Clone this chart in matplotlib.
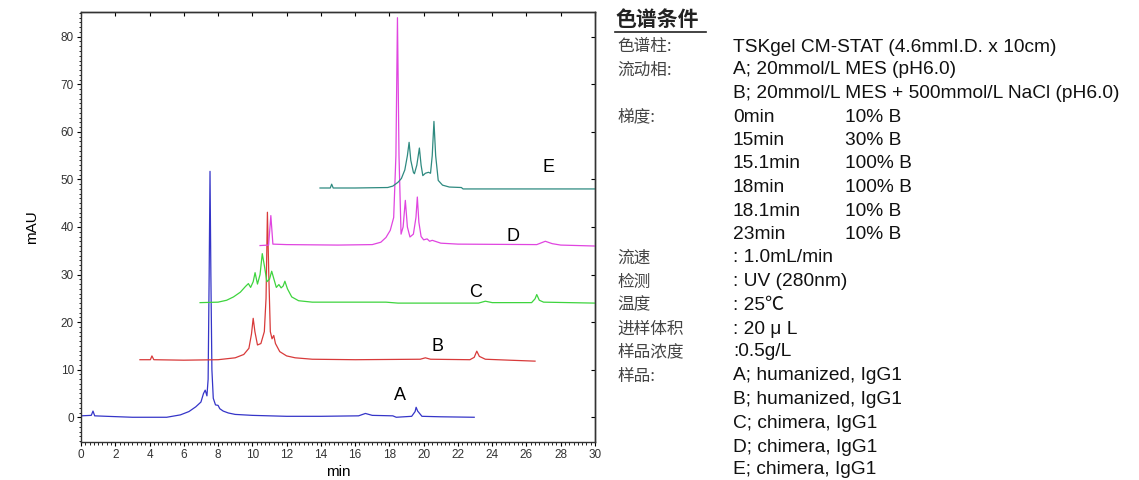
import matplotlib
matplotlib.use("Agg")
import matplotlib.pyplot as plt
from matplotlib.ticker import MultipleLocator

# ---- data (time in min, signal in mAU) ----
a_t = [0, 0.6, 0.7, 0.8, 1.5, 3, 5, 5.8, 6.3, 6.7, 7.0, 7.15, 7.25, 7.35, 7.42, 7.48, 7.53, 7.58, 7.64,
       7.72, 7.85, 8.0, 8.1, 8.3, 8.6, 9.0, 10, 11, 12, 14, 16.2, 16.6, 17.0, 18.2, 18.4, 19.3, 19.5,
       19.56, 19.65, 19.9, 21, 22.95]
a_v = [0.3, 0.4, 1.3, 0.3, 0.2, 0, 0, 0.5, 1.2, 2.2, 3.2, 5.0, 5.7, 4.5, 8, 30, 51.7, 30, 10,
       4, 2.6, 2.5, 1.8, 1.3, 0.9, 0.6, 0.4, 0.3, 0.2, 0.2, 0.3, 0.8, 0.4, 0.3, 0.0, 0.2, 1.2,
       2.1, 1.3, 0.2, 0.1, 0.0]

b_t = [3.44, 4.05, 4.14, 4.25, 6, 8, 9.0, 9.5, 9.8, 9.95, 10.05, 10.15, 10.3, 10.5, 10.7, 10.8, 10.88,
       10.96, 11.05, 11.15, 11.25, 11.35, 11.6, 12, 12.5, 13.5, 16, 19.8, 20.1, 20.4, 22.7, 22.95,
       23.1, 23.25, 23.6, 25, 26.5]
b_v = [12.1, 12.1, 12.9, 12.1, 12.0, 12.1, 12.5, 13.2, 14.5, 17.5, 20.8, 18, 15.2, 15.5, 18, 25, 43.1,
       30, 18, 16.5, 17.2, 15.5, 13.8, 12.9, 12.5, 12.2, 12.1, 12.2, 12.5, 12.2, 12.1, 12.6,
       13.9, 12.8, 12.2, 12.0, 11.8]

c_t = [6.95, 8.0, 8.5, 8.9, 9.3, 9.6, 9.77, 9.9, 10.05, 10.16, 10.3, 10.45, 10.58, 10.72, 10.85, 11.0,
       11.13, 11.28, 11.4, 11.55, 11.68, 11.8, 11.9, 12.05, 12.3, 12.7, 13.5, 17.8, 18.5, 23.2, 23.6,
       24.0, 26.3, 26.5, 26.6, 26.75, 27.0, 30]
c_v = [24.1, 24.2, 24.6, 25.3, 26.3, 27.5, 28.1, 27.3, 28.5, 30.4, 28.0, 30.0, 34.4, 31.5, 28.5, 29.0,
       30.7, 28.8, 27.3, 27.9, 27.2, 27.6, 28.6, 27.0, 25.3, 24.5, 24.2, 24.2, 24.0, 24.0, 24.4,
       24.1, 24.1, 24.9, 25.8, 24.6, 24.2, 24.0]

d_t = [10.45, 10.95, 11.08, 11.2, 12, 15, 17.0, 17.5, 17.8, 18.05, 18.25, 18.38, 18.47, 18.56, 18.68,
       18.8, 18.93, 19.05, 19.2, 19.4, 19.55, 19.63, 19.72, 19.85, 20.0, 20.2, 20.35, 20.5, 21.0, 22,
       26.6, 27.1, 27.5, 28, 30]
d_v = [36.1, 36.2, 42.4, 36.4, 36.3, 36.2, 36.3, 36.8, 37.8, 39.3, 42, 55, 84.0, 55, 38.5,
       40, 45.6, 40, 37.9, 38.5, 42, 46.3, 41, 38, 37.3, 37.5, 37.0, 37.2, 36.6, 36.4,
       36.3, 37.0, 36.5, 36.2, 36.0]

e_t = [13.95, 14.55, 14.63, 14.72, 16, 17.9, 18.2, 18.5, 18.7, 18.9, 19.05, 19.15, 19.25, 19.4, 19.46,
       19.6, 19.75, 19.85, 19.95, 20.1, 20.28, 20.4, 20.5, 20.6, 20.7, 20.85, 21.1, 21.5, 22.2, 22.3, 30]
e_v = [48.2, 48.2, 49.0, 48.2, 48.2, 48.3, 48.6, 49.4, 50.2, 52, 55, 57.8, 54, 51.5, 51.2,
       53, 56.6, 53, 50.8, 51.3, 51.5, 51.3, 55, 62.2, 55, 49.8, 48.8, 48.4, 48.3, 48.0, 48.0]

series_names = ["A", "B", "C", "D", "E"]
label_t = [18.6, 20.8, 23.0, 25.2, 27.3]
label_v = [4.6, 14.9, 26.3, 38.0, 52.5]

x_ticks = list(range(0, 31, 2))
y_ticks = list(range(0, 81, 10))

cond_labels = ["色谱柱:", "流动相:", "", "梯度:", "", "", "", "", "",
               "流速", "检测", "温度", "进样体积", "样品浓度", "样品:", "", "", "", ""]
cond_values = ["TSKgel CM-STAT (4.6mmI.D. x 10cm)",
               "A; 20mmol/L MES (pH6.0)",
               "B; 20mmol/L MES + 500mmol/L NaCl (pH6.0)",
               "0min", "15min", "15.1min", "18min", "18.1min", "23min",
               ": 1.0mL/min", ": UV (280nm)", ": 25℃", ": 20 μ L", ":0.5g/L",
               "A; humanized, IgG1", "B; humanized, IgG1", "C; chimera, IgG1",
               "D; chimera, IgG1", "E; chimera, IgG1"]
cond_extra = ["", "", "", "10% B", "30% B", "100% B", "100% B", "10% B", "10% B",
              "", "", "", "", "", "", "", "", "", ""]

# ---- figure ----
W, H = 1139, 480
fig = plt.figure(figsize=(W / 100, H / 100), dpi=100)
ax = fig.add_axes([81 / W, 1 - 442 / H, (595 - 81) / W, (442 - 12) / H])

colors = ["#3535c8", "#d83a3a", "#3ed43e", "#e045e0", "#2e8a80"]
for (t, v), c in zip([(a_t, a_v), (b_t, b_v), (c_t, c_v), (d_t, d_v), (e_t, e_v)], colors):
    ax.plot(t, v, color=c, lw=0.9)

for n, tx, vy in zip(series_names, label_t, label_v):
    ax.text(tx, vy, n, fontsize=13, family="Liberation Sans", ha="center", va="center", color="black")

ax.set_xlim(0, 30)
ax.set_ylim(-5.2, 85.2)
ax.set_xticks(x_ticks)
ax.set_yticks(y_ticks)
ax.xaxis.set_minor_locator(MultipleLocator(0.25))
ax.yaxis.set_minor_locator(MultipleLocator(1))
ax.tick_params(axis="both", which="major", direction="out", length=3, width=0.8,
               labelsize=8.5, labelcolor="#333333", pad=2)
ax.tick_params(axis="both", which="minor", direction="out", length=1.8, width=0.6)
# inward major ticks along the top and right frame
ax_top = ax.secondary_xaxis("top")
ax_top.set_xticks(x_ticks)
ax_top.tick_params(direction="in", length=3, width=0.8, labeltop=False)
ax_right = ax.secondary_yaxis("right")
ax_right.set_yticks(y_ticks)
ax_right.tick_params(direction="in", length=3, width=0.8, labelright=False)
for lab in ax.get_xticklabels() + ax.get_yticklabels():
    lab.set_family("Liberation Sans")
for s in list(ax.spines.values()) + [ax_top.spines["top"], ax_right.spines["right"]]:
    s.set_linewidth(1.0)
    s.set_color("#333333")
ax.set_xlabel("min", fontsize=11, family="Liberation Sans", labelpad=3)
ax.set_ylabel("mAU", fontsize=11, family="Liberation Sans", labelpad=16)

# ---- conditions panel ----
fam_cn = ["Noto Sans CJK SC", "DejaVu Sans"]
fam_en = ["Liberation Sans", "Noto Sans CJK SC"]
fig.text(615 / W, 1 - 20 / H, "色谱条件", fontsize=15, fontweight="bold", family=fam_cn,
         va="center", ha="left", color="#222222")
fig.add_artist(plt.Line2D([615 / W, 706 / W], [1 - 32 / H, 1 - 32 / H], color="#222222", lw=1.2))
rows_y = [47, 70, 93, 117, 140, 163, 187, 211, 235, 258, 282, 305, 329, 352, 376, 400, 423, 447, 470]
for y, l, v, e in zip(rows_y, cond_labels, cond_values, cond_extra):
    if l:
        fig.text(617 / W, 1 - y / H, l, fontsize=12, family=fam_cn, va="center", ha="left", color="#444444")
    fig.text(733 / W, 1 - y / H, v, fontsize=13.8, family=fam_en, va="center", ha="left", color="#111111")
    if e:
        fig.text(845 / W, 1 - y / H, e, fontsize=13.8, family=fam_en, va="center", ha="left", color="#111111")

fig.savefig("out.png", dpi=100)
